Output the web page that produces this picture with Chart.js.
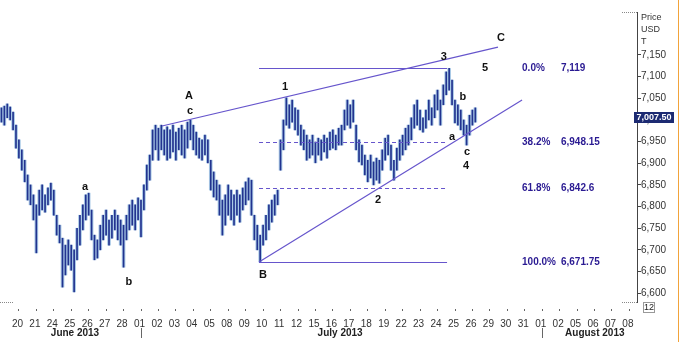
<!DOCTYPE html>
<html>
<head>
<meta charset="utf-8">
<script src="https://cdn.jsdelivr.net/npm/chart.js@4/dist/chart.umd.min.js"></script>
<style>
  html, body { margin: 0; padding: 0; background: #fff; }
</style>
</head>
<body>
<canvas id="copperChart" width="681" height="342"></canvas>
<script>
// trading days on the x axis (June 20 .. August 08, 2013)
const dayLabels = ['20','21','24','25','26','27','28','01','02','03','04','05','08','09','10','11','12','15','16','17','18','19','22','23','24','25','26','29','30','31','01','02','05','06','07','08'];
const barsPerDay = 6;

// intraday bar highs / lows, USD/T
const highs = [
  7028,7032,7037,7030,7018,6988,6954,6931,6907,6873,
  6850,6827,6804,6838,6850,6827,6843,6854,6838,6780,
  6757,6727,6711,6723,6711,6700,6750,6780,6804,6827,
  6831,6792,6734,6723,6757,6780,6792,6769,6780,6792,
  6780,6769,6757,6780,6804,6815,6804,6820,6815,6850,
  6896,6919,6977,6988,6981,6988,6977,6984,6977,6988,
  6972,6981,6988,6977,6995,7000,6988,6972,6958,6954,
  6965,6954,6907,6880,6861,6850,6815,6827,6850,6838,
  6827,6838,6827,6843,6857,6866,6861,6780,6757,6734,
  6757,6780,6804,6815,6827,6838,6954,7000,7051,7035,
  7046,7028,7023,6988,6977,6965,6954,6965,6949,6958,
  6954,6965,6958,6972,6977,6965,6981,6988,7023,7046,
  7035,7046,6988,6954,6942,6919,6907,6919,6903,6912,
  6907,6931,6958,6965,6942,6907,6935,6954,6965,6981,
  6988,7005,7035,7046,7023,7005,7023,7046,7028,7058,
  7069,7046,7081,7111,7119,7092,7046,7035,7023,7000,
  6988,7011,7023,7028
];
const lows = [
  6995,6988,7005,7000,6977,6935,6912,6884,6857,6815,
  6804,6769,6693,6780,6792,6787,6804,6815,6780,6734,
  6716,6614,6642,6665,6653,6603,6677,6711,6746,6769,
  6780,6723,6677,6681,6700,6723,6734,6711,6727,6746,
  6723,6711,6660,6723,6746,6757,6746,6769,6730,6792,
  6838,6861,6907,6931,6907,6931,6919,6907,6912,6926,
  6907,6931,6919,6912,6935,6954,6931,6919,6912,6907,
  6919,6901,6838,6822,6815,6780,6734,6757,6780,6769,
  6757,6780,6764,6792,6804,6815,6780,6723,6700,6672,
  6711,6723,6746,6764,6780,6804,6884,6931,6988,6981,
  6995,6977,6965,6942,6931,6907,6912,6919,6901,6919,
  6907,6926,6912,6931,6935,6931,6942,6942,6977,6988,
  6981,6995,6931,6903,6896,6873,6857,6866,6850,6861,
  6854,6884,6907,6919,6884,6861,6884,6907,6919,6931,
  6942,6954,6981,6988,6977,6972,6981,7000,6988,7005,
  7023,6988,7035,7058,7069,7035,6993,6988,6977,6965,
  6942,6965,6988,6995
];
const lastPrice = 7007.5;

const priceTicks = [6600,6650,6700,6750,6800,6850,6900,6950,7000,7050,7100,7150];

// fibonacci retracement
const fibPct = ['0.0%', '38.2%', '61.8%', '100.0%'];
const fibLevels = [7119, 6948.15, 6842.6, 6671.75];
const fibText = ['7,119', '6,948.15', '6,842.6', '6,671.75'];

// channel lines [day, price]
const upperChannel = [[8.29, 6986], [27.55, 7168]];
const lowerChannel = [[13.85, 6672], [28.93, 7046]];

// wave labels
const waveText  = ['A', 'c', 'a', 'b', 'B', '1', '2', '3', '4', '5', 'C', 'a', 'b', 'c'];
const waveDay   = [9.83, 9.89, 3.87, 6.39, 14.08, 15.34, 20.67, 24.45, 25.72, 26.81, 27.72, 24.91, 25.54, 25.77];
const wavePrice = [7055, 7021, 6845, 6626, 6642, 7076, 6815, 7145, 6894, 7120, 7189, 6961, 7053, 6926];

const months = ['June 2013', 'July 2013', 'August 2013'];
const monthDay = [3.3, 18.5, 33.1];
const monthSplit = [7, 30];

const navy = '#22338f';
const light = '#a9c9e6';
const lineColor = '#6655cc';
const fibColor = '#2a1a92';

var bars = [];
for (var i = 0; i < highs.length; i++) {
  bars.push({ x: -1 + (i + 0.5) / barsPerDay, y: [lows[i], highs[i]] });
}

const overlay = {
  id: 'overlay',
  afterDatasetsDraw(chart) {
    const ctx = chart.ctx;
    const x = chart.scales.x, y = chart.scales.y;
    const px = d => x.getPixelForValue(d);
    const py = p => y.getPixelForValue(p);
    ctx.save();
    ctx.strokeStyle = lineColor;
    ctx.lineWidth = 1.2;
    [upperChannel, lowerChannel].forEach(function (seg) {
      ctx.beginPath();
      ctx.moveTo(px(seg[0][0]), py(seg[0][1]));
      ctx.lineTo(px(seg[1][0]), py(seg[1][1]));
      ctx.stroke();
    });
    fibLevels.forEach(function (lv, k) {
      ctx.setLineDash(k === 0 || k === 3 ? [] : [4, 3]);
      ctx.beginPath();
      ctx.moveTo(px(13.85), Math.round(py(lv)) + 0.5);
      ctx.lineTo(px(24.63), Math.round(py(lv)) + 0.5);
      ctx.stroke();
    });
    ctx.setLineDash([]);

    ctx.fillStyle = fibColor;
    ctx.font = 'bold 10px "Liberation Sans", Arial, sans-serif';
    ctx.textBaseline = 'middle';
    ctx.textAlign = 'left';
    fibLevels.forEach(function (lv, k) {
      ctx.fillText(fibPct[k], px(28.93), py(lv));
      ctx.fillText(fibText[k], px(31.16), py(lv));
    });

    ctx.fillStyle = '#111';
    ctx.font = 'bold 11px "Liberation Sans", Arial, sans-serif';
    ctx.textAlign = 'center';
    waveText.forEach(function (t, k) {
      ctx.fillText(t, px(waveDay[k]), py(wavePrice[k]));
    });
    ctx.restore();
  },
  afterDraw(chart) {
    const ctx = chart.ctx;
    const x = chart.scales.x, y = chart.scales.y;
    const a = chart.chartArea;
    ctx.save();
    // small tick marks over the day labels
    ctx.strokeStyle = '#666';
    ctx.lineWidth = 1;
    dayLabels.forEach(function (d, k) {
      var xx = Math.round(x.getPixelForValue(k)) + 0.5;
      ctx.beginPath();
      ctx.moveTo(xx + 1, a.bottom + 7);
      ctx.lineTo(xx + 1, a.bottom + 9);
      ctx.stroke();
    });
    // month captions
    ctx.fillStyle = '#222';
    ctx.font = 'bold 10px "Liberation Sans", Arial, sans-serif';
    ctx.textAlign = 'center';
    ctx.textBaseline = 'middle';
    months.forEach(function (m, k) {
      ctx.fillText(m, x.getPixelForValue(monthDay[k]), 333);
    });
    monthSplit.forEach(function (d) {
      var xx = Math.round(x.getPixelForValue(d)) + 1.5;
      ctx.beginPath();
      ctx.moveTo(xx, 328);
      ctx.lineTo(xx, 338);
      ctx.stroke();
    });
    // dotted frame bits
    ctx.strokeStyle = '#888';
    ctx.setLineDash([1, 1]);
    ctx.beginPath();
    ctx.moveTo(a.right - 15, a.top + 0.5); ctx.lineTo(a.right, a.top + 0.5);
    ctx.moveTo(a.right - 15, a.bottom + 0.5); ctx.lineTo(a.right, a.bottom + 0.5);
    ctx.moveTo(0, a.bottom + 0.5); ctx.lineTo(13, a.bottom + 0.5);
    ctx.stroke();
    ctx.setLineDash([]);
    // axis title
    ctx.fillStyle = '#333';
    ctx.font = '9px "Liberation Sans", Arial, sans-serif';
    ctx.textAlign = 'left';
    ctx.fillText('Price', a.right + 4, 18);
    ctx.fillText('USD', a.right + 4, 30);
    ctx.fillText('T', a.right + 4, 42);
    // last price tag
    var ly = y.getPixelForValue(lastPrice);
    ctx.fillStyle = '#1c2a72';
    ctx.fillRect(a.right - 3, Math.round(ly) - 5, 40, 11);
    ctx.fillStyle = '#fff';
    ctx.font = 'bold 9px "Liberation Sans", Arial, sans-serif';
    ctx.textAlign = 'center';
    ctx.fillText('7,007.50', a.right + 17, ly + 0.5);
    // "12" box
    ctx.strokeStyle = '#333';
    ctx.setLineDash([1, 1]);
    ctx.strokeRect(a.right + 6.5, a.bottom + 0.5, 11, 10);
    ctx.setLineDash([]);
    ctx.fillStyle = '#222';
    ctx.font = '9px "Liberation Sans", Arial, sans-serif';
    ctx.fillText('12', a.right + 12, a.bottom + 6);
    // orange edge
    ctx.strokeStyle = '#f2a33a';
    ctx.beginPath();
    ctx.moveTo(678.5, 0); ctx.lineTo(678.5, 342);
    ctx.stroke();
    ctx.restore();
  }
};

const config = {
  type: 'bar',
  data: {
    datasets: [{
      label: 'Copper',
      data: bars,
      backgroundColor: navy,
      borderWidth: 0,
      barThickness: 1,
      grouped: false,
      order: 0
    }, {
      label: 'Copper halo',
      data: bars,
      backgroundColor: light,
      borderWidth: 0,
      barThickness: 3,
      grouped: false,
      order: 1
    }]
  },
  options: {
    responsive: false,
    animation: false,
    devicePixelRatio: 1,
    layout: { padding: { top: 12, left: 0, right: 0, bottom: 0 } },
    plugins: {
      legend: { display: false },
      tooltip: { enabled: false }
    },
    scales: {
      x: {
        type: 'linear',
        offset: false,
        min: -1,
        max: 35.52,
        grid: { display: false, offset: false },
        border: { display: false },
        afterBuildTicks: function (scale) {
          scale.ticks = dayLabels.map(function (d, k) { return { value: k }; });
        },
        afterFit: function (scale) { scale.height = 40; },
        ticks: {
          autoSkip: false,
          maxRotation: 0,
          padding: 8,
          color: '#333',
          font: { family: '"Liberation Sans", Arial, sans-serif', size: 10 },
          callback: function (v) { return dayLabels[v] !== undefined ? dayLabels[v] : ''; }
        }
      },
      y: {
        position: 'right',
        min: 6579.6,
        max: 7249.3,
        grid: { drawOnChartArea: false, tickLength: 4, color: '#444' },
        border: { display: true, color: '#444' },
        afterBuildTicks: function (scale) {
          scale.ticks = priceTicks.map(function (v) { return { value: v }; });
        },
        afterFit: function (scale) { scale.width = 44; },
        ticks: {
          padding: 0,
          color: '#333',
          font: { family: '"Liberation Sans", Arial, sans-serif', size: 10 },
          callback: function (v) { return v.toLocaleString('en-US'); }
        }
      }
    }
  },
  plugins: [overlay]
};

const copperChart = new Chart(document.getElementById('copperChart').getContext('2d'), config);
</script>
</body>
</html>
